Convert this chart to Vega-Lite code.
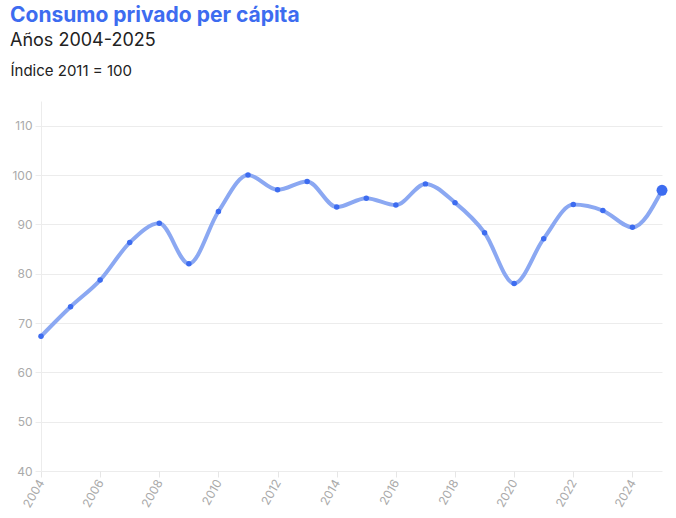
{
  "$schema": "https://vega.github.io/schema/vega-lite/v6.json",
  "width": 621,
  "height": 370,
  "autosize": {"type": "none"},
  "padding": {"left": 41, "top": 101, "right": 14, "bottom": 47},
  "background": "white",
  "title": {
    "text": "Consumo privado per cápita",
    "subtitle": "Años 2004-2025",
    "anchor": "start",
    "frame": "group",
    "dx": -31,
    "offset": 13,
    "font": "Inter",
    "fontSize": 21,
    "fontWeight": "bold",
    "color": "#3d6cf0",
    "subtitleFont": "Inter",
    "subtitleFontSize": 18,
    "subtitleColor": "#222222",
    "subtitlePadding": 6
  },
  "data": {
    "values": [
      {"year": 2004, "value": 67.3},
      {"year": 2005, "value": 73.3},
      {"year": 2006, "value": 78.7},
      {"year": 2007, "value": 86.3},
      {"year": 2008, "value": 90.2},
      {"year": 2009, "value": 82.0},
      {"year": 2010, "value": 92.6},
      {"year": 2011, "value": 100.0},
      {"year": 2012, "value": 97.0},
      {"year": 2013, "value": 98.7},
      {"year": 2014, "value": 93.5},
      {"year": 2015, "value": 95.3},
      {"year": 2016, "value": 93.9},
      {"year": 2017, "value": 98.2},
      {"year": 2018, "value": 94.4},
      {"year": 2019, "value": 88.3},
      {"year": 2020, "value": 78.0},
      {"year": 2021, "value": 87.1},
      {"year": 2022, "value": 94.0},
      {"year": 2023, "value": 92.8},
      {"year": 2024, "value": 89.4},
      {"year": 2025, "value": 96.9}
    ]
  },
  "encoding": {
    "x": {
      "field": "year",
      "type": "quantitative",
      "scale": {"domain": [2004, 2025], "nice": false, "zero": false},
      "axis": {
        "values": [2004, 2006, 2008, 2010, 2012, 2014, 2016, 2018, 2020, 2022, 2024],
        "format": "d",
        "title": null,
        "grid": false,
        "domain": false,
        "labelAngle": -60,
        "labelAlign": "right",
        "labelBaseline": "middle",
        "labelPadding": 3,
        "tickSize": 6,
        "tickColor": "#e6e6e6"
      }
    },
    "y": {
      "field": "value",
      "type": "quantitative",
      "scale": {"domain": [40, 115], "nice": false, "zero": false},
      "axis": {
        "values": [40, 50, 60, 70, 80, 90, 100, 110],
        "title": "Índice 2011 = 100",
        "titleAngle": 0,
        "titleAlign": "left",
        "titleBaseline": "alphabetic",
        "titleX": -31,
        "titleY": -26,
        "titleFont": "Inter",
        "titleFontSize": 15,
        "titleFontWeight": "normal",
        "titleColor": "#222222",
        "domain": true,
        "domainColor": "#ececec",
        "grid": true,
        "gridColor": "#ececec",
        "tickSize": 6,
        "tickColor": "#ececec",
        "labelPadding": 3
      }
    }
  },
  "layer": [
    {
      "mark": {"type": "line", "interpolate": "monotone", "color": "#8ba8f2", "strokeWidth": 4, "strokeCap": "round"}
    },
    {
      "mark": {"type": "circle", "color": "#3d6cf0", "opacity": 1, "size": 30}
    },
    {
      "transform": [{"filter": "datum.year == 2025"}],
      "mark": {"type": "circle", "color": "#3d6cf0", "opacity": 1, "size": 120}
    }
  ],
  "config": {
    "view": {"stroke": null},
    "axis": {
      "labelFont": "Inter",
      "labelFontSize": 12,
      "labelColor": "#aaaaaa"
    }
  }
}
